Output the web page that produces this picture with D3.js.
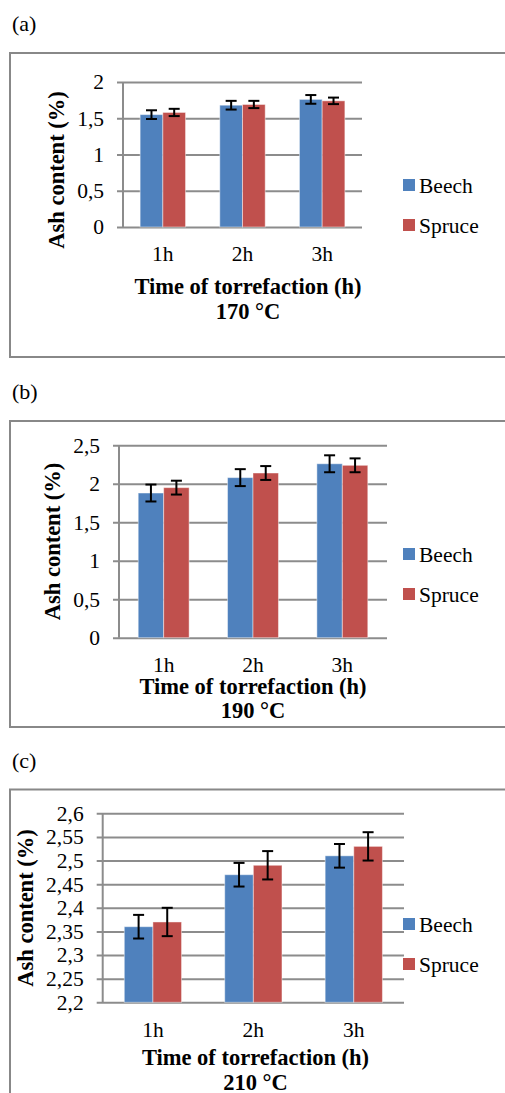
<!DOCTYPE html>
<html>
<head>
<meta charset="utf-8">
<script src="https://cdn.jsdelivr.net/npm/d3@7"></script>
<style>
  html, body { margin: 0; padding: 0; background: #fff; }
  svg { display: block; }
  text { font-family: "Liberation Serif", "Times New Roman", serif; fill: #000; }
</style>
</head>
<body>
<svg id="chart" width="505" height="1093"></svg>
<script>
// ---------- DATA ----------
const categories = ["1h", "2h", "3h"];
const seriesNames = ["Beech", "Spruce"];
const xTitle = "Time of torrefaction (h)";
const yTitle = "Ash content (%)";

// (a) 170 °C
const beechA = [1.55, 1.68, 1.76];
const spruceA = [1.58, 1.69, 1.74];
const beechErrA = [0.06, 0.06, 0.06];
const spruceErrA = [0.05, 0.05, 0.045];
const yTicksA = [0, 0.5, 1, 1.5, 2];

// (b) 190 °C
const beechB = [1.88, 2.08, 2.26];
const spruceB = [1.95, 2.14, 2.24];
const beechErrB = [0.11, 0.11, 0.11];
const spruceErrB = [0.09, 0.09, 0.09];
const yTicksB = [0, 0.5, 1, 1.5, 2, 2.5];

// (c) 210 °C
const beechC = [2.36, 2.47, 2.51];
const spruceC = [2.37, 2.49, 2.53];
const beechErrC = [0.025, 0.025, 0.025];
const spruceErrC = [0.03, 0.03, 0.03];
const yTicksC = [2.2, 2.25, 2.3, 2.35, 2.4, 2.45, 2.5, 2.55, 2.6];

const panelLabels = ["(a)", "(b)", "(c)"];
const temperatures = ["170 °C", "190 °C", "210 °C"];

// ---------- STYLE / LAYOUT ----------
const colors = { Beech: "#4F81BD", Spruce: "#C0504D" };
const gridColor = "#8c8c8c";
const borderColor = "#888888";

const layouts = [
  { labelY: 31, boxTop: 53, boxBottom: 357, x0: 123, x1: 362, yTop: 82, yBot: 227,
    xTickY: 261, titleY: 294, tempY: 319, titleX: 248, yTitleX: 64, yTitleCY: 170,
    legY: [179, 219] },
  { labelY: 399, boxTop: 421, boxBottom: 727, x0: 119, x1: 387, yTop: 445.3, yBot: 637.7,
    xTickY: 672, titleY: 693.5, tempY: 718, titleX: 253, yTitleX: 60, yTitleCY: 541.5,
    legY: [548, 588] },
  { labelY: 768, boxTop: 789.5, boxBottom: 1200, x0: 102.7, x1: 404, yTop: 813.3, yBot: 1002.3,
    xTickY: 1037, titleY: 1065, tempY: 1090, titleX: 255.5, yTitleX: 33, yTitleCY: 908,
    legY: [918, 958] }
];

const panelsData = [
  { beech: beechA, spruce: spruceA, eb: beechErrA, es: spruceErrA, ticks: yTicksA, domain: [0, 2] },
  { beech: beechB, spruce: spruceB, eb: beechErrB, es: spruceErrB, ticks: yTicksB, domain: [0, 2.5] },
  { beech: beechC, spruce: spruceC, eb: beechErrC, es: spruceErrC, ticks: yTicksC, domain: [2.2, 2.6] }
];

const locale = d3.formatLocale({ decimal: ",", thousands: ".", grouping: [3], currency: ["", "€"] });
const fmt = locale.format("~r");

const svg = d3.select("#chart");

panelsData.forEach((pd, i) => {
  const L = layouts[i];
  const g = svg.append("g");

  // panel label
  g.append("text").attr("x", 12).attr("y", L.labelY)
    .style("font-size", "22px").text(panelLabels[i]);

  // border box
  g.append("rect").attr("x", 10).attr("y", L.boxTop)
    .attr("width", 520).attr("height", L.boxBottom - L.boxTop)
    .attr("fill", "none").attr("stroke", borderColor).attr("stroke-width", 2);

  const y = d3.scaleLinear().domain(pd.domain).range([L.yBot, L.yTop]);
  const x0 = d3.scaleBand().domain(categories).range([L.x0, L.x1])
    .paddingInner(0.43).paddingOuter(0.215);
  const x1 = d3.scaleBand().domain(seriesNames).range([0, x0.bandwidth()]).padding(0);

  const w = L.x1 - L.x0;

  // y axis with gridlines
  const yAxis = d3.axisLeft(y).tickValues(pd.ticks).tickFormat(fmt)
    .tickSize(-(w + 6)).tickPadding(13);
  const ya = g.append("g").attr("transform", `translate(${L.x0 - 6},0)`).call(yAxis);
  ya.select(".domain").remove();
  ya.selectAll(".tick line").attr("stroke", gridColor).attr("stroke-width", 2);
  ya.selectAll(".tick text").style("font-size", "21.5px")
    .style("font-family", '"Liberation Serif", serif').attr("fill", "#000");

  // vertical axis line
  g.append("line").attr("x1", L.x0).attr("x2", L.x0)
    .attr("y1", y(pd.domain[1])).attr("y2", y(pd.domain[0]))
    .attr("stroke", gridColor).attr("stroke-width", 2);

  // bars
  const rows = categories.map((c, k) => ({
    cat: c,
    vals: [
      { s: "Beech", v: pd.beech[k], e: pd.eb[k] },
      { s: "Spruce", v: pd.spruce[k], e: pd.es[k] }
    ]
  }));

  const grp = g.selectAll(".grp").data(rows).join("g")
    .attr("transform", d => `translate(${x0(d.cat)},0)`);

  grp.selectAll("rect").data(d => d.vals).join("rect")
    .attr("x", d => x1(d.s))
    .attr("y", d => y(d.v))
    .attr("width", x1.bandwidth())
    .attr("height", d => y(pd.domain[0]) - y(d.v))
    .attr("fill", d => colors[d.s])
    .attr("stroke", "rgba(255,255,255,0.45)")
    .attr("stroke-width", 1);

  // error bars
  const eg = grp.selectAll(".err").data(d => d.vals).join("g")
    .attr("transform", d => `translate(${x1(d.s) + x1.bandwidth() / 2},0)`);
  eg.append("line").attr("x1", 0).attr("x2", 0)
    .attr("y1", d => y(d.v - d.e)).attr("y2", d => y(d.v + d.e))
    .attr("stroke", "#000").attr("stroke-width", 2);
  eg.append("line").attr("x1", -5.5).attr("x2", 5.5)
    .attr("y1", d => y(d.v + d.e)).attr("y2", d => y(d.v + d.e))
    .attr("stroke", "#000").attr("stroke-width", 2);
  eg.append("line").attr("x1", -5.5).attr("x2", 5.5)
    .attr("y1", d => y(d.v - d.e)).attr("y2", d => y(d.v - d.e))
    .attr("stroke", "#000").attr("stroke-width", 2);

  // x axis labels
  const xa = g.append("g").attr("transform", `translate(0,${L.yBot})`)
    .call(d3.axisBottom(x0).tickSize(0));
  xa.select(".domain").remove();
  xa.selectAll(".tick text").attr("dy", null).attr("y", L.xTickY - L.yBot)
    .style("font-size", "21.5px").style("font-family", '"Liberation Serif", serif').attr("fill", "#000");

  // titles
  g.append("text").attr("x", L.titleX).attr("y", L.titleY).attr("text-anchor", "middle")
    .style("font-size", "22.5px").style("font-weight", "bold").text(xTitle);
  g.append("text").attr("x", L.titleX).attr("y", L.tempY).attr("text-anchor", "middle")
    .style("font-size", "22.5px").style("font-weight", "bold").text(temperatures[i]);
  g.append("text")
    .attr("transform", `translate(${L.yTitleX},${L.yTitleCY}) rotate(-90)`)
    .attr("text-anchor", "middle")
    .style("font-size", "22.5px").style("font-weight", "bold").text(yTitle);

  // legend
  seriesNames.forEach((s, k) => {
    g.append("rect").attr("x", 403).attr("y", L.legY[k]).attr("width", 12).attr("height", 12)
      .attr("fill", colors[s]);
    g.append("text").attr("x", 419).attr("y", L.legY[k] + 13.5)
      .style("font-size", "21.5px").text(s);
  });
});
</script>
</body>
</html>
